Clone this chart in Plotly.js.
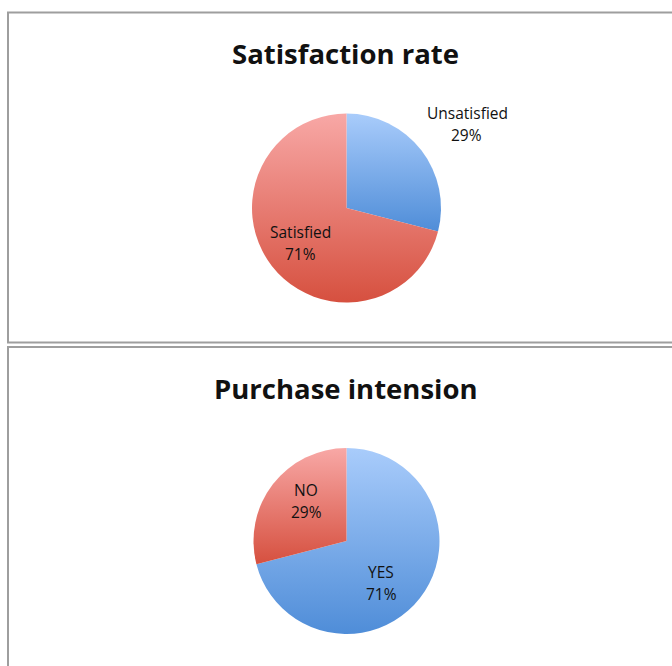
<!DOCTYPE html>
<html>
<head>
<meta charset="utf-8">
<script src="https://cdn.plot.ly/plotly-3.0.1.min.js"></script>
<style>html,body{margin:0;padding:0;background:#fff;}#chart{width:672px;height:666px;}</style>
</head>
<body>
<div id="chart"></div>
<script>
// ---- data ----
const satTitle = "Satisfaction rate";
const satLabels = ["Unsatisfied", "Satisfied"];
const satValues = [29, 71];
const purTitle = "Purchase intension";
const purLabels = ["YES", "NO"];
const purValues = [71, 29];

const W = 672, H = 666;
const px = x => x / W;
const py = y => 1 - y / H;
const FONT = "'Open Sans', Lato, sans-serif";

function pct(vals, i) {
  const s = vals.reduce((a, b) => a + b, 0);
  return Math.round(vals[i] / s * 100) + "%";
}

const blueMid = "#7aaeea", redMid = "#ea7c74";

const traces = [
  {
    type: "pie", labels: satLabels, values: satValues, sort: false,
    direction: "clockwise", rotation: 0, textinfo: "none", hoverinfo: "none",
    marker: {colors: [blueMid, redMid], line: {width: 0}},
    domain: {x: [px(252), px(441)], y: [py(302.5), py(113.5)]},
    showlegend: false
  },
  {
    type: "pie", labels: purLabels, values: purValues, sort: false,
    direction: "clockwise", rotation: 0, textinfo: "none", hoverinfo: "none",
    marker: {colors: [blueMid, redMid], line: {width: 0}},
    domain: {x: [px(253.5), px(439.5)], y: [py(634), py(448)]},
    showlegend: false
  }
];

function ann(text, x, y, size, bold) {
  return {
    text: bold ? "<b>" + text + "</b>" : text,
    x: px(x), y: py(y), xref: "paper", yref: "paper",
    xanchor: "center", yanchor: "middle", showarrow: false,
    font: {family: FONT, size: size, color: "#111"}
  };
}

const LS = 15.5;
const TS = 27.5;
const annotations = [
  ann(satTitle, 346, 53, TS, true),
  ann(purTitle, 346, 388, TS, true),
  ann(satLabels[0], 467, 113, LS),
  ann(pct(satValues, 0), 466, 135, LS),
  ann(satLabels[1], 300, 232, LS),
  ann(pct(satValues, 1), 300, 254, LS),
  ann(purLabels[0], 381, 572, LS),
  ann(pct(purValues, 0), 381, 594, LS),
  ann(purLabels[1], 306, 490, LS),
  ann(pct(purValues, 1), 306, 512, LS)
];

const borderLine = {color: "#9e9e9e", width: 2};
const shapes = [
  {type: "rect", xref: "paper", yref: "paper", x0: px(8), x1: px(690), y0: py(342.5), y1: py(12.5), line: borderLine},
  {type: "rect", xref: "paper", yref: "paper", x0: px(8), x1: px(690), y0: py(700), y1: py(347), line: borderLine}
];

const layout = {
  width: W, height: H,
  margin: {l: 0, r: 0, t: 0, b: 0},
  paper_bgcolor: "#fff",
  annotations: annotations,
  shapes: shapes,
  showlegend: false
};

Plotly.newPlot("chart", traces, layout, {staticPlot: true, displayModeBar: false}).then(gd => {
  const svg = gd.querySelector(".main-svg");
  const NS = "http://www.w3.org/2000/svg";
  let defs = svg.querySelector("defs");
  if (!defs) { defs = document.createElementNS(NS, "defs"); svg.insertBefore(defs, svg.firstChild); }
  function grad(id, c0, c1) {
    const g = document.createElementNS(NS, "linearGradient");
    g.setAttribute("id", id);
    g.setAttribute("x1", "0"); g.setAttribute("y1", "0");
    g.setAttribute("x2", "0"); g.setAttribute("y2", "1");
    [[0, c0], [1, c1]].forEach(([o, c]) => {
      const s = document.createElementNS(NS, "stop");
      s.setAttribute("offset", o);
      s.setAttribute("stop-color", c);
      g.appendChild(s);
    });
    defs.appendChild(g);
  }
  grad("gBlue", "#a9ccfb", "#4f8dd8");
  grad("gRed", "#f8a8a6", "#d6503f");
  gd.querySelectorAll(".trace").forEach(tr => {
    tr.querySelectorAll(".slice path.surface").forEach(p => {
      const f = (p.style.fill || "").replace(/\s/g, "");
      if (f === "rgb(122,174,234)") p.style.fill = "url(#gBlue)";
      else if (f === "rgb(234,124,116)") p.style.fill = "url(#gRed)";
    });
  });
});
</script>
</body>
</html>
